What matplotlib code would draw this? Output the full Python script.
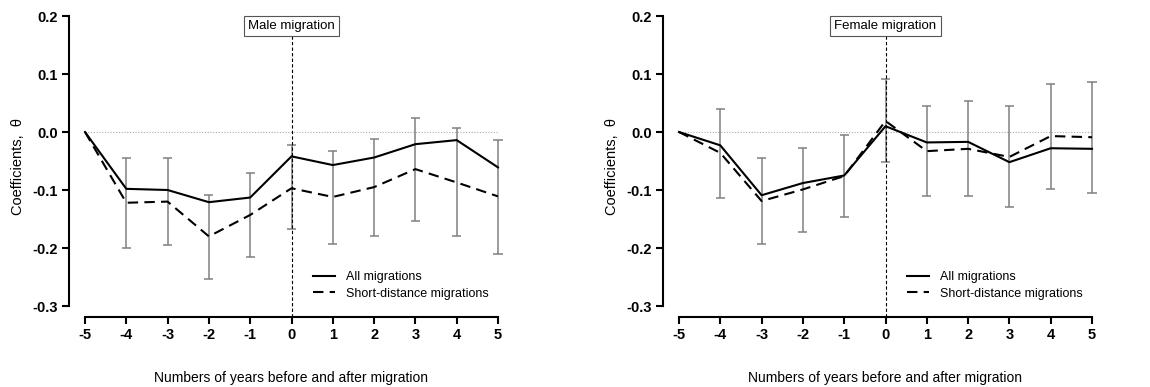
import matplotlib
matplotlib.use("Agg")
import matplotlib.pyplot as plt
import matplotlib.transforms as mtransforms

plt.rcParams['font.family'] = ['Liberation Sans', 'DejaVu Sans']

years = [-5, -4, -3, -2, -1, 0, 1, 2, 3, 4, 5]
tick_labels = ["-5", "-4", "-3", "-2", "-1", "0", "1", "2", "3", "4", "5"]
y_ticks = [-0.3, -0.2, -0.1, 0.0, 0.1, 0.2]

male_all = [0, -0.098, -0.100, -0.121, -0.113, -0.042, -0.057, -0.044, -0.021, -0.014, -0.061]
male_short = [0, -0.122, -0.120, -0.180, -0.143, -0.097, -0.112, -0.095, -0.064, -0.087, -0.111]
male_ci_low = [None, -0.200, -0.195, -0.254, -0.215, -0.168, -0.193, -0.179, -0.153, -0.179, -0.210]
male_ci_high = [None, -0.045, -0.045, -0.108, -0.071, -0.023, -0.033, -0.012, 0.024, 0.007, -0.013]

female_all = [0, -0.023, -0.109, -0.088, -0.075, 0.010, -0.018, -0.017, -0.052, -0.028, -0.029]
female_short = [0, -0.036, -0.119, -0.099, -0.076, 0.019, -0.033, -0.029, -0.043, -0.007, -0.009]
female_ci_low = [None, -0.114, -0.193, -0.172, -0.147, -0.051, -0.110, -0.110, -0.129, -0.098, -0.106]
female_ci_high = [None, 0.040, -0.045, -0.028, -0.005, 0.092, 0.045, 0.054, 0.044, 0.083, 0.087]

W, H = 1150, 387
fig = plt.figure(figsize=(W / 100, H / 100), dpi=100)

def px_axes(left, right, top, bottom):
    return fig.add_axes([left / W, 1 - bottom / H, (right - left) / W, (bottom - top) / H])

def panel(ax, all_v, short_v, lo, hi, title):
    xw = 10 / 413.0
    ax.set_xlim(-5 - 16 * xw, 5)
    yw = 0.5 / 290.0
    ax.set_ylim(-0.3 - 11 * yw, 0.2)
    for s in ['top', 'right']:
        ax.spines[s].set_visible(False)
    ax.spines['left'].set_bounds(-0.3, 0.2)
    ax.spines['bottom'].set_bounds(-5, 5)
    for s in ['left', 'bottom']:
        ax.spines[s].set_linewidth(1.5)
    ax.set_xticks(years)
    ax.set_xticklabels(tick_labels, fontweight='bold', fontsize=10.5)
    ax.set_yticks(y_ticks)
    ax.set_yticklabels([f"{v:.1f}" for v in y_ticks], fontweight='bold', fontsize=10.5)
    ax.tick_params(axis='both', direction='out', length=5, width=1.5, pad=3)
    ax.hlines(0, -5, 5, colors='#aaaaaa', linestyles=(0, (1, 1.5)), linewidth=0.8)
    xs = [x for x, l in zip(years, lo) if l is not None]
    ls = [l for l in lo if l is not None]
    hs = [h for h in hi if h is not None]
    ax.vlines(xs, ls, hs, colors='#808080', linewidth=1.1, clip_on=False)
    ax.hlines(ls, [x - 0.11 for x in xs], [x + 0.11 for x in xs], colors='#808080', linewidth=1.1, clip_on=False)
    ax.hlines(hs, [x - 0.11 for x in xs], [x + 0.11 for x in xs], colors='#808080', linewidth=1.1, clip_on=False)
    ax.plot(years, all_v, color='black', linewidth=1.5, label='All migrations', clip_on=False)
    ax.plot(years, short_v, color='black', linewidth=1.5, linestyle=(0, (5, 3)),
            label='Short-distance migrations', clip_on=False)
    ax.vlines(0, -0.3 - 11 * yw, 0.166, colors='black', linestyles=(0, (3, 2)), linewidth=0.8, clip_on=False)
    ax.text(0, 0.182, title, ha='center', va='center', fontsize=9.5,
            bbox=dict(boxstyle='square,pad=0.3', facecolor='white', edgecolor='#555555', linewidth=0.8))
    ax.set_ylabel("Coefficients,  θ", fontsize=10.5, labelpad=5)
    ax.set_xlabel("Numbers of years before and after migration", fontsize=10)
    trans = mtransforms.blended_transform_factory(ax.transData, ax.transAxes)
    ax.xaxis.set_label_coords(0, -0.178, transform=trans)
    ax.legend(loc='center left', bbox_to_anchor=(0.557, 0.105), frameon=False, fontsize=9,
              handlelength=1.76, handletextpad=0.9, labelspacing=0.35, borderpad=0.4,
              borderaxespad=0)

ax1 = px_axes(69, 498, 16, 317)
panel(ax1, male_all, male_short, male_ci_low, male_ci_high, "Male migration")
ax2 = px_axes(663, 1092, 16, 317)
panel(ax2, female_all, female_short, female_ci_low, female_ci_high, "Female migration")

fig.savefig("out.png", dpi=100)
